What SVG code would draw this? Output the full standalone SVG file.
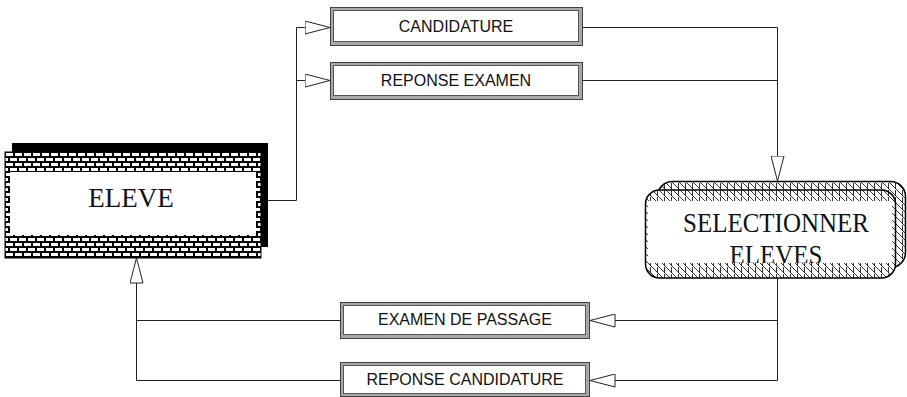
<svg xmlns="http://www.w3.org/2000/svg" width="907" height="397" viewBox="0 0 907 397">
<style>
.conn{fill:none;stroke:#222;stroke-width:1}
.flow-o{fill:#a8a8a8;stroke:#404040;stroke-width:1}
.flow-i{fill:#fff;stroke:#555;stroke-width:1}
.lbl{font-family:"Liberation Sans",Arial,sans-serif;font-size:16px;fill:#111;text-anchor:middle}
.big{font-family:"Liberation Serif","Times New Roman",serif;fill:#111;text-anchor:middle}
</style>
<defs>
<pattern id="brick" width="18" height="10" patternUnits="userSpaceOnUse" x="5" y="152">
<rect width="18" height="10" fill="#000"/>
<rect x="1" y="1" width="7" height="3" fill="#fff"/>
<rect x="10" y="1" width="7" height="3" fill="#fff"/>
<rect x="-4" y="6" width="7" height="3" fill="#fff"/>
<rect x="5" y="6" width="7" height="3" fill="#fff"/>
<rect x="14" y="6" width="7" height="3" fill="#fff"/>
</pattern>
<pattern id="hatch" width="7" height="7" patternUnits="userSpaceOnUse">
<rect width="7" height="7" fill="#fff"/>
<path d="M0,0 L7,7 M6.5,1 V7 M-1,6 L1,8" stroke="#000" stroke-width="0.8" fill="none"/>
</pattern>
<marker id="tri" viewBox="0 0 26 14" markerWidth="26" markerHeight="14" refX="25.5" refY="7" orient="auto" markerUnits="userSpaceOnUse">
<path d="M0.5,0.5 L25.5,7 L0.5,13.5 Z" fill="#fff" stroke="#222" stroke-width="1"/>
</marker>
<clipPath id="selclip"><rect x="648" y="201" width="244" height="62"/></clipPath>
</defs>

<g id="connectors">
<path class="conn" d="M268,200.5 H296.5 V27.5 H330" marker-end="url(#tri)"/>
<path class="conn" d="M296.5,80.5 H330" marker-end="url(#tri)"/>
<path class="conn" d="M582,27.5 H777.5 V181" marker-end="url(#tri)"/>
<path class="conn" d="M582,80.5 H777.5"/>
<path class="conn" d="M777.5,278 V380.5 H590" marker-end="url(#tri)"/>
<path class="conn" d="M777.5,320.5 H590" marker-end="url(#tri)"/>
<path class="conn" d="M340,320.5 H136.5 V258" marker-end="url(#tri)"/>
<path class="conn" d="M340,380.5 H136.5 V320.5"/>
</g>

<g id="eleve">
<rect x="12" y="143" width="256" height="104" fill="#000"/>
<rect x="5" y="152" width="256" height="106" fill="url(#brick)" stroke="#000" stroke-width="1"/>
<rect x="10" y="172" width="246" height="63" fill="#fff"/>
<text class="big" x="131" y="207" font-size="27">ELEVE</text>
</g>

<g id="selectionner">
<rect x="657.5" y="181.5" width="248" height="86" rx="15" fill="url(#hatch)" stroke="#000" stroke-width="1.5"/>
<rect x="645.5" y="190" width="250" height="88" rx="14" fill="url(#hatch)" stroke="#000" stroke-width="1.5"/>
<rect x="648" y="201" width="244" height="62" fill="#fff"/>
<g clip-path="url(#selclip)">
<g transform="translate(776,232) scale(1,1.12)">
<text class="big" x="0" y="0" font-size="25">SELECTIONNER</text>
<text class="big" x="0" y="29" font-size="25">ELEVES</text>
</g>
</g>
</g>

<g id="candidature">
<rect class="flow-o" x="330.5" y="7.5" width="252" height="38"/>
<rect class="flow-i" x="333.5" y="10.5" width="245" height="31"/>
<text class="lbl" x="456" y="32">CANDIDATURE</text>
</g>

<g id="reponse-examen">
<rect class="flow-o" x="330.5" y="62.5" width="252" height="37"/>
<rect class="flow-i" x="333.5" y="65.5" width="245" height="30"/>
<text class="lbl" x="456" y="86">REPONSE EXAMEN</text>
</g>

<g id="examen-passage">
<rect class="flow-o" x="340.5" y="302.5" width="249" height="36"/>
<rect class="flow-i" x="343.5" y="305.5" width="242" height="29"/>
<text class="lbl" x="465" y="325">EXAMEN DE PASSAGE</text>
</g>

<g id="reponse-candidature">
<rect class="flow-o" x="340.5" y="362.5" width="249" height="34"/>
<rect class="flow-i" x="343.5" y="365.5" width="242" height="28"/>
<text class="lbl" x="465" y="385">REPONSE CANDIDATURE</text>
</g>
</svg>
